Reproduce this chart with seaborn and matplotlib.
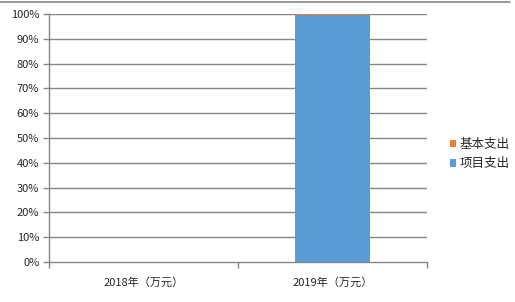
import matplotlib
matplotlib.use("Agg")
import matplotlib.pyplot as plt
from matplotlib.ticker import FixedLocator
import seaborn as sns
import pandas as pd

categories = ["2018年（万元）", "2019年（万元）"]
basic = [0.0, 0.6]       # 基本支出 (%)
project = [0.0, 99.4]    # 项目支出 (%)
yticks = [0, 10, 20, 30, 40, 50, 60, 70, 80, 90, 100]
ytick_labels = [f"{v}%" for v in yticks]

sns.set_theme(style="white")
plt.rcParams['font.family'] = ['Noto Sans CJK SC', 'DejaVu Sans']

df = pd.DataFrame({"cat": categories, "basic": basic, "project": project})
df["total"] = df["basic"] + df["project"]

fig = plt.figure(figsize=(5.15, 3.02), dpi=100)
ax = fig.add_axes([49/515, 1-262/302, (427-49)/515, (262-14)/302])

grid_c = "#868686"
for v in yticks[1:]:
    ax.axhline(v, color=grid_c, lw=1, zorder=0)

sns.barplot(data=df, x="cat", y="total", color="#ED7D31", width=0.4,
            saturation=1, ax=ax, label="基本支出", zorder=2, linewidth=0,
            edgecolor="none")
sns.barplot(data=df, x="cat", y="project", color="#5B9BD5", width=0.4,
            saturation=1, ax=ax, label="项目支出", zorder=3, linewidth=0,
            edgecolor="none")

ax.set_xlim(-0.5, 1.5)
ax.set_ylim(0, 100)
ax.set_yticks(yticks)
ax.set_yticklabels(ytick_labels)
ax.set_xlabel("")
ax.set_ylabel("")

for s in ["top", "right"]:
    ax.spines[s].set_visible(False)
for s in ["left", "bottom"]:
    ax.spines[s].set_color(grid_c)
    ax.spines[s].set_linewidth(1)

ax.tick_params(axis="y", length=4, width=1, color=grid_c, labelsize=8,
               labelcolor="#262626", pad=3, left=True)
ax.tick_params(axis="x", which="major", length=0, labelsize=8,
               labelcolor="#262626", pad=11)
ax.xaxis.set_minor_locator(FixedLocator([-0.5, 0.5, 1.5]))
ax.tick_params(axis="x", which="minor", length=4, width=1, color=grid_c,
               bottom=True)

h, l = ax.get_legend_handles_labels()
leg = ax.legend(h, l, loc="center left", bbox_to_anchor=(1.03, 0.435),
                frameon=False, fontsize=9, handlelength=0.55, handleheight=0.55,
                handletextpad=0.25, labelspacing=0.5)
for t in leg.get_texts():
    t.set_color("#262626")

fig.add_artist(plt.Line2D([0, 0.99], [1-1.5/302, 1-1.5/302], color=grid_c,
                          lw=1.2, transform=fig.transFigure))

fig.savefig("out.png", dpi=100, facecolor="white")
